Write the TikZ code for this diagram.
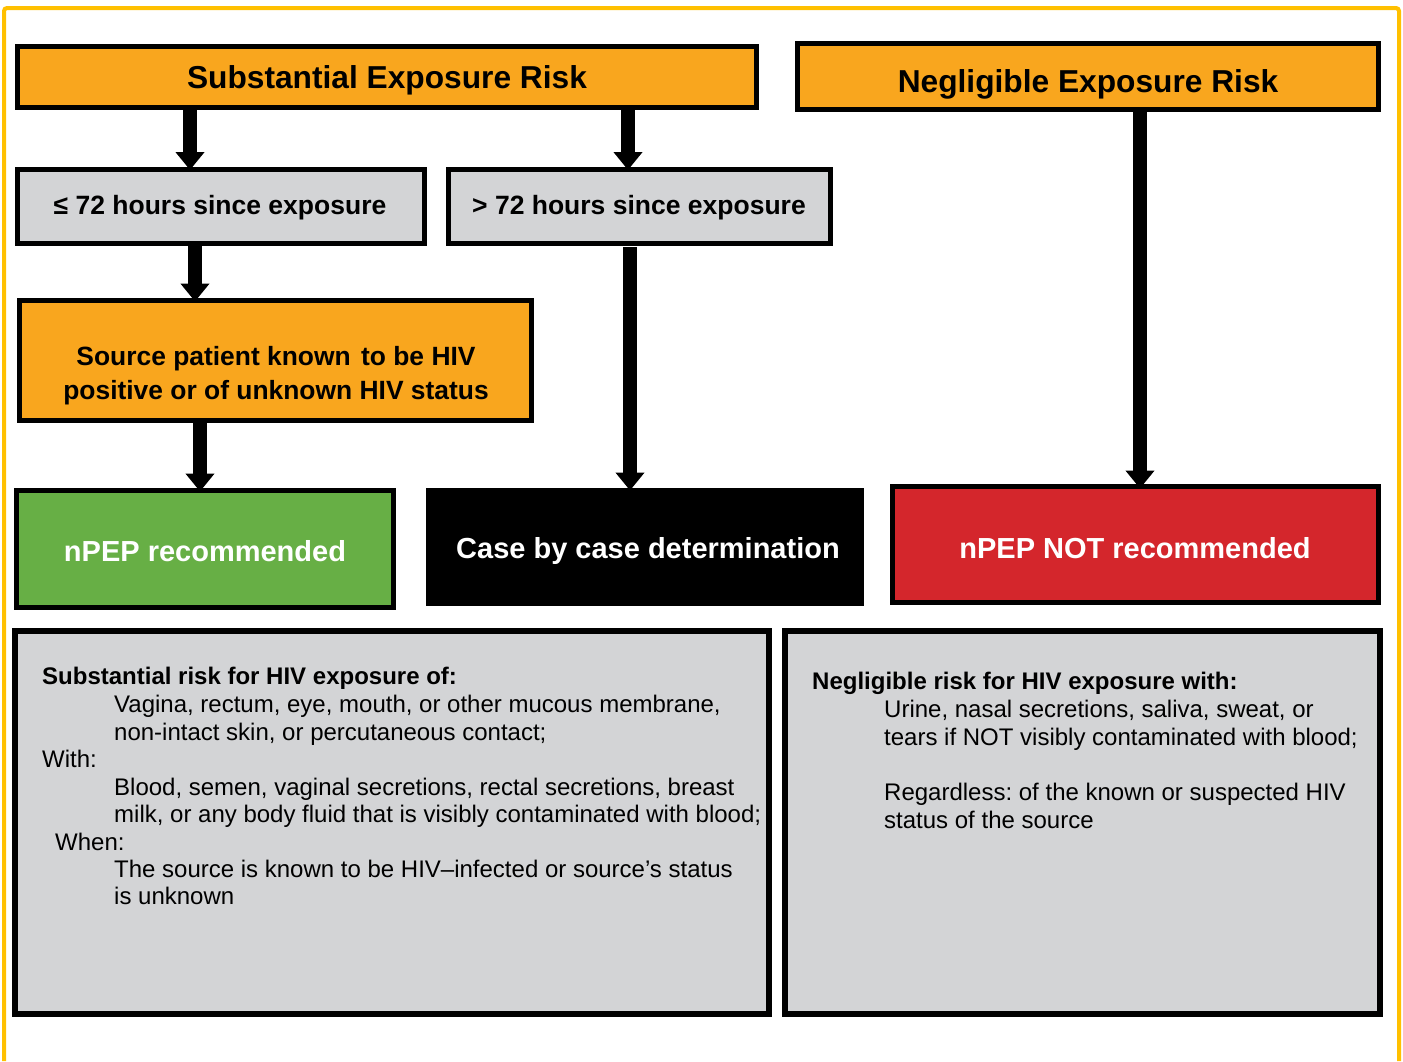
\documentclass[tikz,border=0pt]{standalone}
\usepackage{fontspec}
\setmainfont{Liberation Sans}
\usetikzlibrary{arrows.meta}
\definecolor{orng}{HTML}{F9A61E}
\definecolor{lgray}{HTML}{D3D4D6}
\definecolor{grn}{HTML}{67AF45}
\definecolor{rd}{HTML}{D4262C}
\definecolor{framecol}{HTML}{FFC000}
\frenchspacing
\begin{document}
\begin{tikzpicture}[x=1pt,y=-1pt,
  box/.style={rectangle, draw=black, line width=5pt, inner sep=0pt, outer sep=0pt},
  bigbox/.style={box, line width=6pt, fill=lgray},
  ttl/.style={inner sep=0pt, anchor=base, font=\fontsize{31.7}{38}\selectfont\bfseries},
  mid/.style={inner sep=0pt, anchor=base, font=\fontsize{26.5}{32}\selectfont\bfseries},
  res/.style={inner sep=0pt, anchor=base, text=white, font=\fontsize{29}{35}\selectfont\bfseries},
  body/.style={inner sep=0pt, anchor=base west, font=\fontsize{24}{28}\selectfont},
  bodyb/.style={body, font=\fontsize{24}{28}\selectfont\bfseries},
  arr/.style={line width=14pt, -{Triangle[width=28pt,length=18pt]}}]
\useasboundingbox (0,0) rectangle (1403,1061);
\fill[white] (0,0) rectangle (1403,1061);
\draw[framecol, line width=4pt, rounded corners=3pt] (4,1061) -- (4,8) -- (1399,8) -- (1399,1061);

% boxes
\node[box, fill=orng, minimum width=739pt, minimum height=61pt] (sub) at (387,77) {};
\node[box, fill=orng, minimum width=581pt, minimum height=66pt] (neg) at (1088,76.5) {};
\node[box, fill=lgray, minimum width=407pt, minimum height=74pt] (le72) at (221,206) {};
\node[box, fill=lgray, minimum width=382pt, minimum height=74pt] (gt72) at (639.5,206) {};
\node[box, fill=orng, minimum width=512pt, minimum height=120pt] (src) at (275.5,360.5) {};
\node[box, fill=grn, minimum width=377pt, minimum height=117pt] (rec) at (205,549) {};
\node[box, fill=black, minimum width=433pt, minimum height=113pt] (case) at (645,547) {};
\node[box, fill=rd, minimum width=486pt, minimum height=116pt] (notrec) at (1135.5,544.5) {};
\node[bigbox, minimum width=754pt, minimum height=383pt] (lbox) at (392,822.5) {};
\node[bigbox, minimum width=595pt, minimum height=383pt] (rbox) at (1082.5,822.5) {};

% box texts
\node[ttl] (subT) at (387,88) {Substantial Exposure Risk};
\node[ttl] (negT) at (1088,92) {Negligible Exposure Risk};
\node[mid] (le72T) at (220,214) {≤ 72 hours since exposure};
\node[mid] (gt72T) at (639,214) {> 72 hours since exposure};
\node[mid, font=\fontsize{26.4}{32}\selectfont\bfseries] (srcT1) at (276,365) {Source patient known\hspace{3pt} to be HIV};
\node[mid, font=\fontsize{26.4}{32}\selectfont\bfseries] (srcT2) at (276,399) {positive or of unknown HIV status};
\node[res] (recT) at (205,561) {nPEP recommended};
\node[res] (caseT) at (648,558) {Case by case determination};
\node[res] (notT) at (1135,558) {nPEP NOT recommended};

% body left
\node[bodyb] (l1) at (42,684) {Substantial risk for HIV exposure of:};
\node[body] (l2) at (114,712) {Vagina, rectum, eye, mouth, or other mucous membrane,};
\node[body] (l3) at (114,740) {non-intact skin, or percutaneous contact;};
\node[body] (l4) at (42,767) {With:};
\node[body] (l5) at (114,795) {Blood, semen, vaginal secretions, rectal secretions, breast};
\node[body] (l6) at (114,822) {milk, or any body fluid that is visibly contaminated with blood;};
\node[body] (l7) at (55,850) {When:};
\node[body] (l8) at (114,877) {The source is known to be HIV–infected or source’s status};
\node[body] (l9) at (114,904) {is unknown};

% body right
\node[bodyb] (r1) at (812,689) {Negligible risk for HIV exposure with:};
\node[body] (r2) at (884,717) {Urine, nasal secretions, saliva, sweat, or};
\node[body] (r3) at (884,745) {tears if NOT visibly contaminated with blood;};
\node[body] (r4) at (884,800) {Regardless: of the known or suspected HIV};
\node[body] (r5) at (884,828) {status of the source};

% arrows
\coordinate (a1) at (190,0);
\coordinate (a2) at (628,0);
\coordinate (a3) at (195,0);
\coordinate (a4) at (200,0);
\coordinate (a5) at (630,0);
\coordinate (a6) at (1140,0);
\draw[arr] (sub.south -| a1) -- ([yshift=-1pt]le72.north -| a1);
\draw[arr] (sub.south -| a2) -- ([yshift=-1pt]gt72.north -| a2);
\draw[arr] (le72.south -| a3) -- ([yshift=-1pt]src.north -| a3);
\draw[arr] (src.south -| a4) -- ([yshift=-1pt]rec.north -| a4);
\draw[arr] ([yshift=-4pt]gt72.south -| a5) -- (case.north -| a5);
\draw[arr] (neg.south -| a6) -- ([yshift=-2pt]notrec.north -| a6);
\end{tikzpicture}
\end{document}
